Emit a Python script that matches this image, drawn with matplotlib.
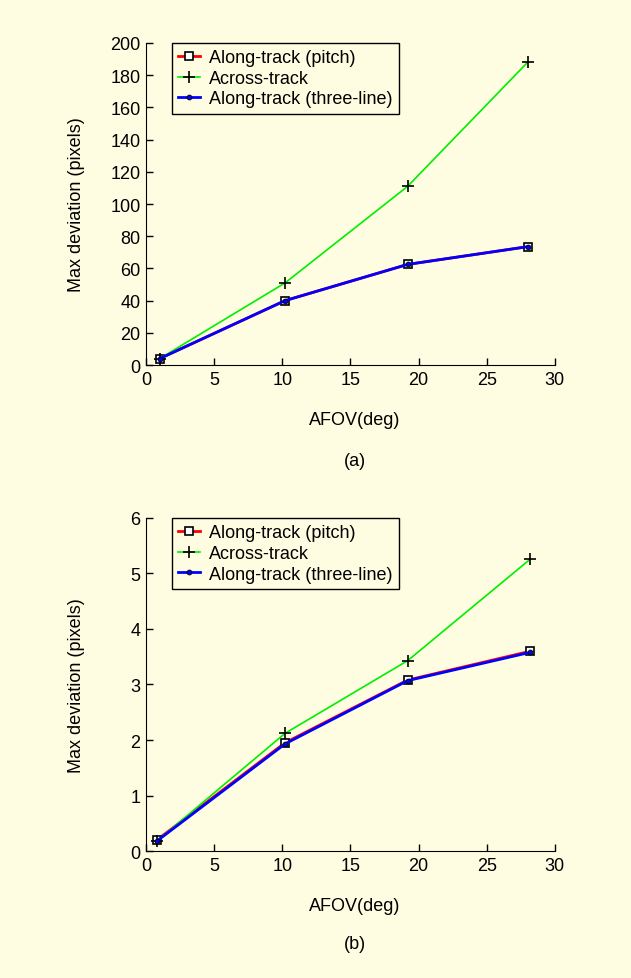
import matplotlib
matplotlib.use("Agg")
from matplotlib import pyplot as plt

plt.rcParams['font.family'] = ['Liberation Sans', 'DejaVu Sans']

# (a)
afov_a = [1.0, 10.2, 19.2, 28.0]
pitch_a = [4.0, 40.0, 62.5, 73.5]
across_a = [4.0, 51.0, 111.0, 188.0]
three_a = [4.0, 40.0, 62.5, 73.5]

# (b)
afov_b = [0.8, 10.2, 19.2, 28.2]
pitch_b = [0.20, 1.95, 3.08, 3.60]
across_b = [0.18, 2.12, 3.43, 5.26]
three_b = [0.18, 1.93, 3.07, 3.58]

bg = '#fffde1'
fs = 13
fig = plt.figure(figsize=(6.31, 9.79), dpi=100, facecolor=bg)

ax1 = fig.add_axes([0.2314, 0.6261, 0.648, 0.329])
ax2 = fig.add_axes([0.2314, 0.1297, 0.648, 0.3402])


def draw(ax, x, pitch, across, three, ymax, yticks, tag, xl_y, tag_y):
    ax.set_facecolor(bg)
    ax.plot(x, pitch, color='red', lw=2.0, marker='s', ms=6,
            mfc='white', mec='black', mew=1.2, label='Along-track (pitch)')
    ax.plot(x, across, color='#00ee00', lw=1.2, marker='+', ms=8,
            mec='black', mew=1.2, label='Across-track')
    ax.plot(x, three, color='blue', lw=2.0, marker='o', ms=3.5,
            mfc='blue', mec='black', mew=0.6, label='Along-track (three-line)')
    ax.set_xlim(0, 30)
    ax.set_ylim(0, ymax)
    ax.set_xticks(range(0, 31, 5))
    ax.set_yticks(yticks)
    for s in ['top', 'right']:
        ax.spines[s].set_visible(False)
    ax.tick_params(direction='in', length=5, labelsize=fs, width=1, pad=4)

    ax.set_xlabel('AFOV(deg)', fontsize=fs, va='center')
    ax.xaxis.set_label_coords(0.51, xl_y)
    ax.set_ylabel('Max deviation (pixels)', fontsize=fs, va='center')
    ax.yaxis.set_label_coords(-0.169, 0.5)
    ax.text(0.51, tag_y, tag, transform=ax.transAxes, ha='center',
            va='center', fontsize=fs)

    leg = ax.legend(loc='upper left', bbox_to_anchor=(0.063, 1.0),
                    borderaxespad=0, fontsize=fs, fancybox=False,
                    framealpha=1, edgecolor='black', facecolor=bg,
                    handlelength=1.2, labelspacing=0.2, borderpad=0.35,
                    handletextpad=0.5)
    leg.get_frame().set_linewidth(1.0)


draw(ax1, afov_a, pitch_a, across_a, three_a, 200, range(0, 201, 20), '(a)',
     -0.168, -0.295)
draw(ax2, afov_b, pitch_b, across_b, three_b, 6, range(0, 7), '(b)',
     -0.165, -0.279)

plt.savefig('out.png', dpi=100, facecolor=bg)
